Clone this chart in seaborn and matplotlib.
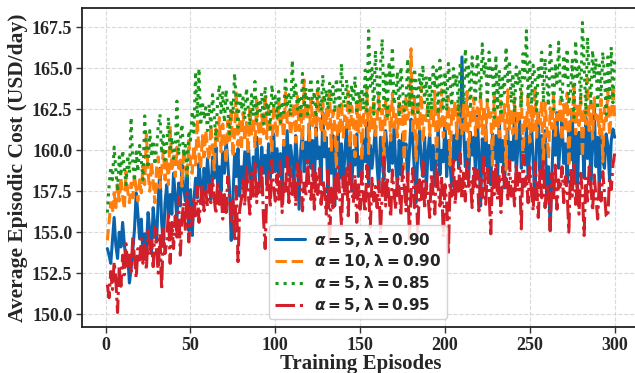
import numpy as np
import pandas as pd
import matplotlib
matplotlib.use("Agg")
import matplotlib.pyplot as plt
import seaborn as sns

episodes = list(range(1, 301))

cost_a5_l090 = [
    154.0,153.6,153.1,154.5,155.9,154.2,153.4,155.0,154.1,155.6,
    154.3,153.2,153.6,151.9,152.8,153.9,155.2,157.4,156.1,154.6,
    155.8,153.5,154.9,154.0,156.2,155.1,153.7,156.5,155.3,154.4,
    157.0,158.9,155.6,154.2,156.8,157.9,155.9,157.3,156.1,158.6,
    157.2,155.8,158.0,156.6,159.1,157.7,156.9,158.4,155.1,157.6,
    154.8,156.9,158.3,157.1,159.2,158.0,156.7,158.9,157.4,159.5,
    158.1,157.0,159.6,158.3,160.2,157.8,159.0,157.5,159.9,158.6,
    160.7,159.2,157.6,154.5,156.9,159.8,158.4,160.1,157.2,159.0,
    158.0,159.9,157.6,160.5,158.8,157.4,159.6,158.2,160.8,159.1,
    157.8,160.2,158.6,159.7,157.9,160.4,158.3,159.5,161.0,158.7,
    160.1,158.4,159.8,157.6,160.6,159.0,161.2,158.5,160.3,159.3,
    158.1,160.9,159.4,156.4,160.0,161.1,158.7,160.5,159.2,161.6,
    158.9,160.6,157.7,161.4,159.5,160.2,158.1,162.3,159.6,160.8,
    157.4,160.1,158.6,160.9,156.6,159.7,161.2,158.3,160.4,157.9,
    159.8,161.5,158.8,160.6,157.5,160.0,159.1,161.0,158.4,159.6,
    158.2,160.7,159.3,161.8,157.8,160.3,158.9,160.1,161.4,159.0,
    157.6,160.8,159.4,158.2,161.2,160.0,158.7,160.9,159.2,161.5,
    159.0,157.9,160.6,158.5,161.0,159.6,160.4,158.1,159.9,161.9,
    160.6,158.7,156.8,160.1,161.3,159.2,158.4,160.8,157.6,159.9,
    161.0,158.8,160.3,157.9,159.6,161.4,158.5,160.0,159.3,161.7,
    158.4,160.6,159.1,157.8,160.9,159.4,161.6,158.9,160.2,165.7,
    161.2,159.0,160.5,158.3,161.1,159.7,160.8,158.6,162.1,159.8,
    156.6,160.7,159.2,161.5,158.8,160.3,157.9,161.0,159.5,160.9,
    158.2,161.8,159.3,160.6,157.7,160.1,161.3,158.9,160.5,159.4,
    162.4,158.6,160.2,161.9,158.9,160.7,159.1,161.4,158.3,160.0,
    161.6,159.3,157.0,160.5,162.2,158.7,160.9,159.6,161.2,157.2,
    159.0,155.1,158.4,161.3,159.7,162.3,158.9,160.6,161.8,159.2,
    160.4,158.0,161.5,159.4,162.5,158.6,160.9,157.1,161.1,159.8,
    160.7,158.3,162.0,159.5,161.4,158.1,160.2,162.6,159.0,160.8,
    157.5,161.2,159.4,158.9,161.0,160.3,158.2,160.6,161.3,160.8,
]

cost_a10_l090 = [
    154.5,155.6,156.8,156.2,157.4,156.5,157.9,156.9,158.3,157.2,
    156.4,158.7,157.5,156.8,158.0,157.1,158.5,157.6,156.9,158.2,
    157.4,159.1,157.9,161.0,158.6,157.5,159.3,158.1,156.8,158.9,
    159.6,157.7,158.8,160.0,158.2,159.5,157.9,161.5,158.7,159.8,
    158.4,160.2,158.9,159.4,157.8,160.1,159.0,158.3,160.6,159.2,
    158.6,160.3,159.1,161.9,159.8,158.9,160.9,159.6,161.2,160.1,
    159.4,161.5,160.2,158.8,161.3,160.5,162.0,159.9,161.6,160.7,
    159.2,161.8,160.4,162.5,159.6,161.1,163.6,160.3,161.9,160.0,
    162.3,160.6,161.7,159.8,162.7,160.9,162.0,160.2,163.1,161.4,
    160.4,162.2,161.0,163.4,160.7,162.5,161.3,159.9,162.8,161.6,
    160.8,163.0,161.4,162.1,160.3,163.6,161.7,162.4,160.9,161.8,
    162.9,160.5,163.3,161.2,162.6,160.1,164.3,161.9,162.8,160.6,
    163.1,161.5,162.3,160.9,163.7,162.0,161.1,163.2,160.4,162.5,
    161.3,163.5,160.0,162.4,161.6,158.9,162.8,161.0,163.0,160.8,
    162.1,161.4,163.6,160.2,162.7,161.8,159.6,162.9,161.1,163.3,
    159.4,162.2,161.5,163.8,159.8,162.6,161.2,163.1,160.9,162.0,
    163.4,161.1,162.5,159.2,163.0,161.7,162.8,160.6,163.5,161.4,
    162.2,160.8,163.1,161.6,162.7,158.9,163.3,161.9,162.4,166.2,
    161.0,163.2,159.3,162.6,161.3,163.9,160.5,162.1,161.8,163.0,
    160.9,162.7,161.5,163.6,159.5,162.3,161.4,163.7,160.8,162.0,
    161.3,163.3,159.1,162.5,161.9,163.0,160.7,162.8,161.6,161.0,
    162.9,161.2,163.6,159.6,162.4,161.7,163.2,160.9,162.6,161.4,
    163.5,161.0,162.7,160.6,163.1,161.8,162.3,159.0,163.4,161.5,
    162.2,160.8,163.0,161.6,162.8,158.8,163.7,161.3,162.5,161.0,
    163.2,160.7,162.4,161.9,163.6,159.4,162.1,161.4,163.3,160.5,
    162.7,161.2,163.9,160.8,162.3,161.6,163.0,159.1,162.9,161.5,
    159.5,162.6,161.3,163.4,160.9,162.2,161.7,163.1,160.6,162.8,
    161.1,163.5,159.0,162.5,161.8,164.0,161.0,162.7,161.5,163.3,
    159.6,162.4,161.6,164.4,161.2,162.9,160.7,163.2,161.9,162.3,
    161.0,163.1,159.3,162.6,161.8,163.6,160.9,162.2,163.9,162.0,
]

cost_a5_l085 = [
    156.2,157.8,159.0,158.2,160.2,158.8,157.5,159.6,158.4,160.0,
    158.9,157.9,159.7,158.6,162.0,159.2,158.1,159.9,158.7,160.3,
    159.4,158.2,162.1,160.0,158.9,161.2,159.6,160.6,159.1,160.1,
    161.5,162.2,159.8,160.9,159.4,160.4,162.0,159.9,160.8,159.5,
    160.2,163.0,159.7,160.7,161.6,159.6,160.3,158.4,161.2,160.6,
    162.4,161.1,164.8,162.0,165.0,161.5,163.0,161.9,162.6,161.2,
    162.8,161.4,163.4,162.1,160.6,163.1,164.0,162.3,163.6,161.7,
    163.7,162.4,161.0,163.1,162.2,164.7,162.9,161.4,163.6,162.5,
    163.2,161.9,163.8,162.6,161.5,163.4,162.1,164.2,161.8,163.1,
    162.4,163.5,161.6,163.9,162.2,162.9,161.3,164.0,162.7,163.3,
    162.0,163.6,161.7,163.0,162.3,164.5,162.8,163.4,162.1,165.5,
    163.2,164.0,162.5,163.3,161.9,164.7,162.6,163.8,162.2,163.5,
    164.4,162.8,163.6,162.0,164.2,163.1,162.4,164.6,162.9,163.7,
    162.5,164.1,163.0,163.9,162.3,164.4,163.4,162.7,165.3,163.2,
    162.6,164.3,163.1,162.4,164.0,162.9,164.5,162.2,163.6,162.9,
    163.8,162.5,164.9,162.4,167.3,163.9,165.0,162.2,166.1,164.0,
    162.5,165.2,166.8,162.7,164.6,162.1,165.4,163.9,166.3,162.8,
    163.4,164.8,162.0,165.1,163.8,162.4,162.9,165.6,162.6,164.3,
    162.1,165.0,164.0,162.3,164.7,163.6,165.2,162.9,164.5,162.0,
    164.6,162.5,165.1,163.8,164.9,162.2,165.5,164.1,162.6,164.8,
    162.4,165.3,164.2,162.7,165.0,163.9,164.6,162.1,165.4,164.0,
    162.8,166.2,164.3,165.1,162.5,165.7,164.4,162.9,165.9,164.6,
    163.1,166.5,164.7,165.4,162.8,166.0,164.5,165.2,162.0,165.8,
    162.6,164.9,162.1,164.4,163.5,166.3,164.2,165.5,162.9,164.7,
    162.3,165.1,164.0,164.8,162.6,165.9,164.4,167.3,163.1,165.4,
    162.8,165.2,164.6,162.4,165.0,164.3,166.0,162.9,165.6,164.2,
    162.7,166.4,164.9,162.5,165.3,164.1,166.6,163.6,162.9,165.8,
    164.3,166.2,162.8,163.6,165.5,162.0,166.7,164.5,165.1,162.8,
    167.8,165.4,162.2,166.9,164.7,162.9,166.1,164.4,165.6,162.5,
    165.2,163.3,166.0,164.6,162.2,165.7,163.0,166.3,162.9,165.5,
]

cost_a5_l095 = [
    151.8,151.0,152.6,151.5,153.2,152.1,150.1,152.9,151.7,153.6,
    152.4,154.3,152.9,153.8,152.6,154.7,153.4,152.2,154.0,153.3,
    154.6,153.1,154.2,152.7,155.1,153.6,154.5,152.9,155.3,153.8,
    152.5,154.9,151.5,155.2,153.7,154.4,156.3,153.1,155.6,154.0,
    156.0,154.7,157.2,153.6,155.9,156.8,155.1,157.4,154.4,156.5,
    155.3,157.1,156.0,157.8,155.6,156.9,158.0,156.3,157.5,156.6,
    157.9,156.8,158.3,157.0,156.1,158.1,156.7,157.6,155.8,157.3,
    156.2,158.4,157.1,155.5,156.9,154.6,157.8,153.2,156.4,157.0,
    158.2,156.6,159.0,157.4,156.1,158.6,157.2,159.2,156.8,158.0,
    157.3,159.1,155.9,154.0,157.6,158.7,156.5,159.4,157.8,156.9,
    158.5,157.0,159.3,156.2,158.1,157.5,159.6,156.8,158.9,157.3,
    158.4,156.6,159.2,157.9,158.7,156.3,158.0,157.2,159.4,157.6,
    157.0,159.1,156.4,158.6,157.3,158.9,156.7,158.2,157.5,156.1,
    158.8,154.2,157.7,156.5,158.3,156.9,159.0,157.1,155.4,158.4,
    157.2,158.9,156.0,159.3,157.6,156.8,158.5,155.6,157.9,156.4,
    158.7,157.0,156.2,159.1,157.4,155.3,158.3,156.9,157.8,156.5,
    158.1,154.9,157.5,159.6,156.6,158.4,157.1,155.9,158.8,157.3,
    156.4,158.5,157.6,156.0,159.0,157.8,156.3,158.6,154.6,157.4,
    158.9,156.5,157.9,154.8,158.2,157.0,159.3,156.4,158.0,157.2,
    155.9,158.6,157.3,156.1,159.2,157.7,156.6,158.4,154.7,157.9,
    156.8,153.6,158.1,157.2,159.4,156.7,158.3,157.5,159.8,157.0,
    158.6,156.9,159.5,157.8,158.2,156.5,159.1,157.6,158.8,156.3,
    158.4,157.1,159.6,156.7,158.9,157.4,154.9,158.7,157.3,159.2,
    157.0,158.5,156.2,159.0,157.6,158.3,156.9,159.4,157.2,158.1,
    156.6,159.2,157.5,158.6,155.2,159.7,157.8,158.4,156.8,159.0,
    157.4,156.3,159.3,157.9,155.9,158.8,157.1,159.5,156.5,158.0,
    157.3,155.1,158.6,157.0,159.1,156.4,158.2,157.6,159.0,156.8,
    158.4,157.5,155.0,158.9,157.2,159.3,156.7,158.0,156.1,158.6,
    157.4,154.8,158.3,156.9,159.0,157.8,156.3,158.5,157.1,155.8,
    158.2,156.9,158.7,157.4,156.0,155.9,158.4,157.6,159.1,159.8,
]

series_labels = [
    r"$\boldsymbol{\alpha = 5, \lambda = 0.90}$",
    r"$\boldsymbol{\alpha = 10, \lambda = 0.90}$",
    r"$\boldsymbol{\alpha = 5, \lambda = 0.85}$",
    r"$\boldsymbol{\alpha = 5, \lambda = 0.95}$",
]
x_ticks = [0, 50, 100, 150, 200, 250, 300]
y_ticks = [150.0, 152.5, 155.0, 157.5, 160.0, 162.5, 165.0, 167.5]

colors = ["#0a64ad", "#ff7f0e", "#1a961a", "#d2202a"]
styles = ["-", "--", ":", "-."]

sns.set_theme(style="whitegrid")
plt.rcParams["font.family"] = ["Liberation Serif", "DejaVu Serif"]
plt.rcParams["font.weight"] = "bold"
plt.rcParams["mathtext.fontset"] = "dejavusans"

fig = plt.figure(figsize=(6.35, 3.73), dpi=100)
ax = fig.add_axes([82 / 635, 1 - 327 / 373, 558 / 635, 319 / 373])

all_series = [cost_a5_l090, cost_a10_l090, cost_a5_l085, cost_a5_l095]
for vals, lab, col, ls in zip(all_series, series_labels, colors, styles):
    df = pd.DataFrame({"Episode": episodes, "Cost": vals})
    sns.lineplot(data=df, x="Episode", y="Cost", ax=ax, color=col,
                 linestyle=ls, linewidth=2.2, label=lab)

ax.set_xticks(x_ticks)
ax.set_yticks(y_ticks)
ax.set_xticklabels([str(t) for t in x_ticks])
ax.set_yticklabels([f"{t:.1f}" for t in y_ticks])
ax.tick_params(axis="both", labelsize=13, length=4, width=1, color="#333333",
               bottom=True, left=True, pad=3)
for lbl in ax.get_xticklabels() + ax.get_yticklabels():
    lbl.set_fontweight("bold")

ax.set_xlabel("Training Episodes", fontsize=15, fontweight="bold", labelpad=0)
ax.set_ylabel("Average Episodic Cost (USD/day)", fontsize=15.5, fontweight="bold", labelpad=3)

ax.grid(True, linestyle="--", color="#d0d0d0", linewidth=0.8, alpha=0.8)
ax.set_facecolor("white")
for sp in ax.spines.values():
    sp.set_color("#222222")
    sp.set_linewidth(1.3)
ax.spines["right"].set_visible(False)

leg = ax.legend(loc="lower center", bbox_to_anchor=(0.495, 0.0), fontsize=11,
                frameon=True, framealpha=0.85, edgecolor="#cccccc",
                labelspacing=0.25, handlelength=2.0, borderpad=0.35,
                handletextpad=0.6)

fig.savefig("out.png", dpi=100)
